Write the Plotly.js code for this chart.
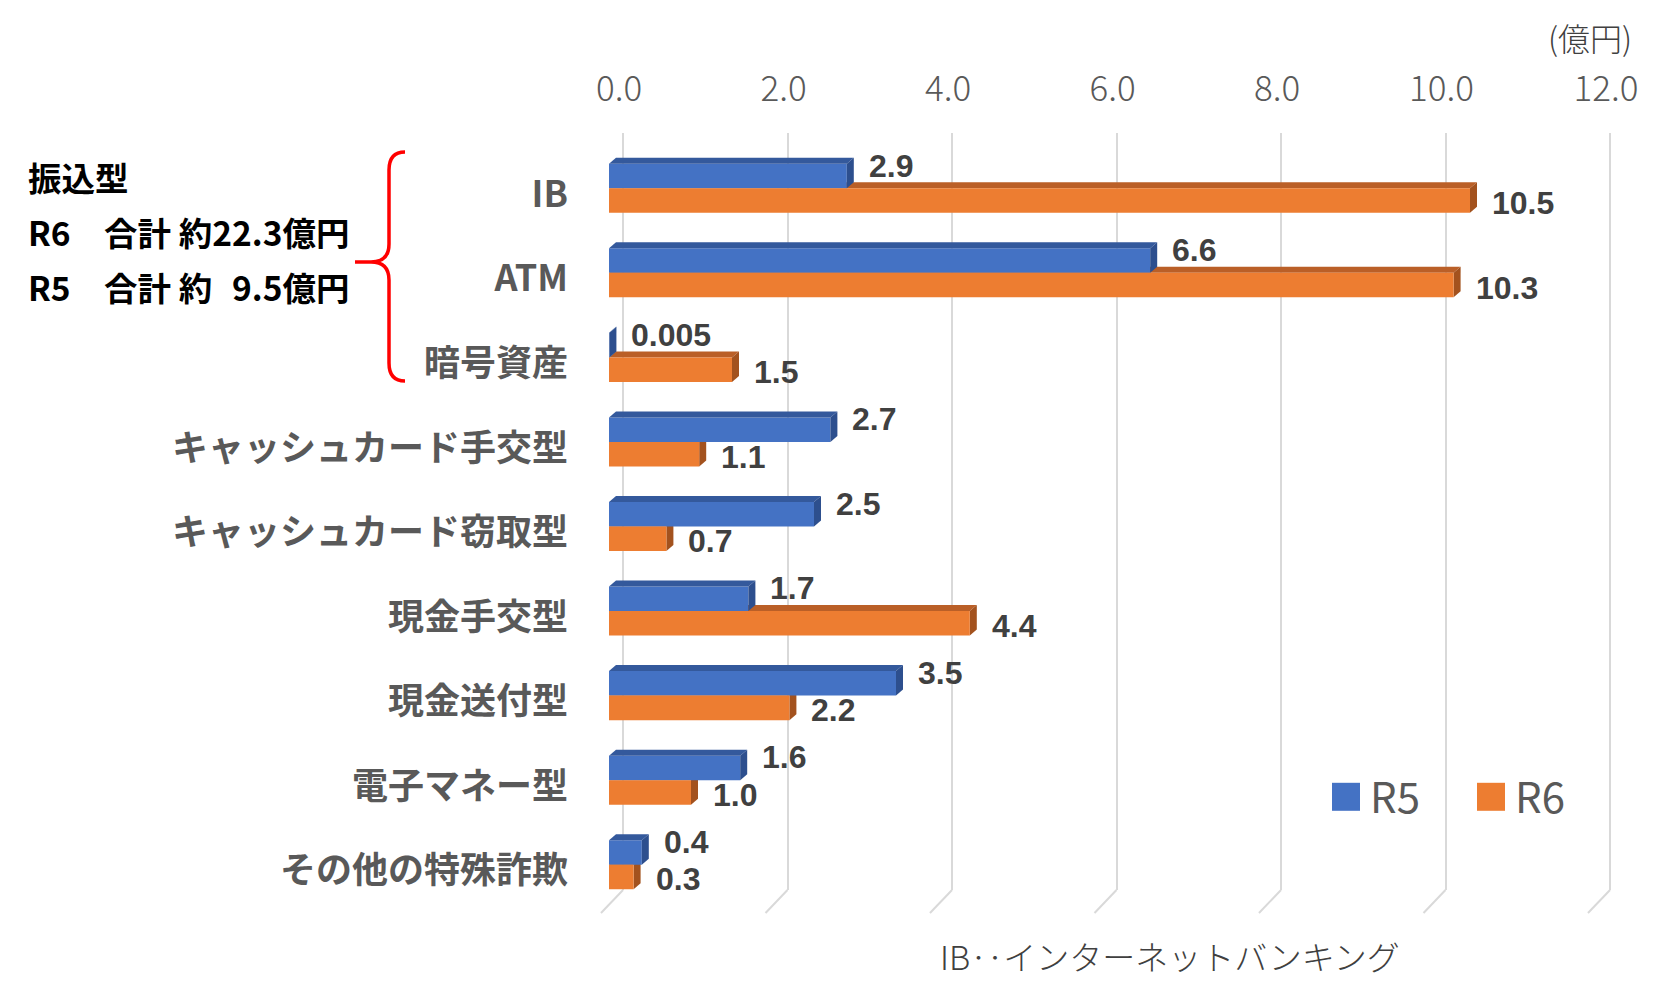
<!DOCTYPE html>
<html>
<head>
<meta charset="utf-8">
<script src="https://cdn.plot.ly/plotly-3.0.1.min.js"></script>
<style>
html,body{margin:0;padding:0;background:#fff;}
#chart{width:1672px;height:994px;}
</style>
</head>
<body>
<div id="chart"></div>
<script>
// ---------------- data ----------------
const categories = ['IB', 'ATM', '暗号資産', 'キャッシュカード手交型', 'キャッシュカード窃取型', '現金手交型', '現金送付型', '電子マネー型', 'その他の特殊詐欺'];
const r5Values = [2.9, 6.6, 0.005, 2.7, 2.5, 1.7, 3.5, 1.6, 0.4];
const r6Values = [10.5, 10.3, 1.5, 1.1, 0.7, 4.4, 2.2, 1.0, 0.3];
const seriesNames = ['R5', 'R6'];
const xTickValues = [0, 2, 4, 6, 8, 10, 12];
const xTickLabels = ['0.0', '2.0', '4.0', '6.0', '8.0', '10.0', '12.0'];
const groupNote = ['振込型', 'R6\u3000合計 約22.3億円', 'R5\u3000合計 約\u20079.5億円'];
const unitLabel = '(億円)';
const footNote = 'IB‥インターネットバンキング';

// ---------------- geometry (pixels) ----------------
const W = 1672, H = 994;
const L = 609, R = 1612, T = 133, B = 907;
const PW = R - L, PH = B - T;
const px2x = p => (p - L) / PW;
const px2y = p => (B - p) / PH;
const frontScale = 82;      // px per unit, bar front faces
const backScale = 82.25;    // px per unit, back wall grid
const backZero = 623;
const barTopPx = 146;
const gridBottomPx = 890;
const floorFrontPx = 913;
const bargap = 0.42;
const half = (1 - bargap) / 2;
const bandPx = (B - barTopPx) / categories.length;
const dX = 7 / frontScale;
const dY = 6 / bandPx;

const FONT = '"Noto Sans CJK JP", "Noto Sans", sans-serif';
const NUMFONT = '"Liberation Sans", Arial, sans-serif';
const colors = {
  r5: '#4472C4', r5Top: '#34599C', r5Side: '#2D4F8E',
  r6: '#ED7D31', r6Top: '#BA5F27', r6Side: '#A3521E'
};

const fmt = v => (v < 0.1 ? v.toFixed(3) : v.toFixed(1));

// ---------------- traces ----------------
const traces = [
  // carrier of the back-wall value axis (draws nothing itself)
  {type: 'scatter', mode: 'none', x: xTickValues, y: xTickValues.map(() => 0.5),
   xaxis: 'x', yaxis: 'y', showlegend: false, hoverinfo: 'skip'},
  {type: 'bar', orientation: 'h', name: seriesNames[0], x: r5Values, y: categories,
   xaxis: 'x2', yaxis: 'y2', marker: {color: colors.r5, line: {width: 0}}, hoverinfo: 'skip'},
  {type: 'bar', orientation: 'h', name: seriesNames[1], x: r6Values, y: categories,
   xaxis: 'x2', yaxis: 'y2', marker: {color: colors.r6, line: {width: 0}}, hoverinfo: 'skip'}
];

// ---------------- 3D faces (computed from the data) ----------------
const shapes = [];
const poly = pts => 'M' + pts.map(p => p[0] + ',' + p[1]).join('L') + 'Z';
categories.forEach((c, i) => {
  const vb = r5Values[i], vo = r6Values[i];
  const bTop = i - half, bBot = i, oTop = i, oBot = i + half;
  shapes.push({type: 'path', xref: 'x2', yref: 'y2', layer: 'below', line: {width: 0}, fillcolor: colors.r6Top,
    path: poly([[0, oTop], [vo, oTop], [vo + dX, oTop - dY], [dX, oTop - dY]])});
  shapes.push({type: 'path', xref: 'x2', yref: 'y2', layer: 'below', line: {width: 0}, fillcolor: colors.r6Side,
    path: poly([[vo, oTop], [vo + dX, oTop - dY], [vo + dX, oBot - dY], [vo, oBot]])});
  shapes.push({type: 'path', xref: 'x2', yref: 'y2', layer: 'above', line: {width: 0}, fillcolor: colors.r5Top,
    path: poly([[0, bTop], [vb, bTop], [vb + dX, bTop - dY], [dX, bTop - dY]])});
  shapes.push({type: 'path', xref: 'x2', yref: 'y2', layer: 'above', line: {width: 0}, fillcolor: colors.r5Side,
    path: poly([[vb, bTop], [vb + dX, bTop - dY], [vb + dX, bBot - dY], [vb, bBot]])});
});
xTickValues.forEach(v => {
  const bx = backZero + v * backScale;
  shapes.push({type: 'line', xref: 'paper', yref: 'paper', layer: 'below',
    x0: px2x(bx), y0: px2y(gridBottomPx), x1: px2x(bx - 22), y1: px2y(floorFrontPx),
    line: {color: '#D9D9D9', width: 2}});
});
const bracePx = [
  ['M', 405, 152], ['Q', 389, 152, 389, 170], ['L', 389, 244], ['Q', 389, 262, 371, 262], ['L', 355, 262],
  ['L', 371, 262], ['Q', 389, 262, 389, 280], ['L', 389, 363], ['Q', 389, 381, 405, 381]
];
const bracePath = bracePx.map(s => {
  const cmd = s[0], nums = s.slice(1), out = [];
  for (let k = 0; k < nums.length; k += 2) out.push(px2x(nums[k]) + ',' + px2y(nums[k + 1]));
  return cmd + out.join(' ');
}).join(' ');
shapes.push({type: 'path', xref: 'paper', yref: 'paper', layer: 'above', path: bracePath,
  line: {color: '#FF0000', width: 3.5}});

// ---------------- annotations ----------------
const annotations = [];
const labelFont = {family: NUMFONT, size: 32, color: '#404040', weight: 700};
categories.forEach((c, i) => {
  annotations.push({xref: 'x2', yref: 'y2', x: r5Values[i], y: i - half / 2, text: fmt(r5Values[i]),
    xanchor: 'left', yanchor: 'middle', xshift: 20, yshift: 10.5, showarrow: false, font: labelFont});
  annotations.push({xref: 'x2', yref: 'y2', x: r6Values[i], y: i + half / 2, text: fmt(r6Values[i]),
    xanchor: 'left', yanchor: 'middle', xshift: 20, yshift: -2.5, showarrow: false, font: labelFont});
});
const noteY = [176, 231.5, 286];
groupNote.forEach((t, k) => {
  annotations.push({xref: 'paper', yref: 'paper', x: px2x(26), y: px2y(noteY[k]), text: t,
    xanchor: 'left', yanchor: 'middle', showarrow: false,
    font: {family: FONT, size: 33.5, color: '#000000', weight: 700}});
});
annotations.push({xref: 'paper', yref: 'paper', x: px2x(1634), y: px2y(37), text: unitLabel,
  xanchor: 'right', yanchor: 'middle', showarrow: false,
  font: {family: FONT, size: 32, color: '#404040', weight: 300}});
annotations.push({xref: 'paper', yref: 'paper', x: px2x(1170), y: px2y(956), text: footNote,
  xanchor: 'center', yanchor: 'middle', showarrow: false,
  font: {family: FONT, size: 33, color: '#404040', weight: 300}});

// ---------------- layout ----------------
const layout = {
  width: W, height: H,
  margin: {l: L, r: W - R, t: T, b: H - B, pad: 0},
  paper_bgcolor: '#ffffff', plot_bgcolor: 'rgba(0,0,0,0)',
  font: {family: FONT, color: '#595959'},
  barmode: 'group', bargap: bargap, bargroupgap: 0,
  showlegend: true,
  legend: {orientation: 'h', x: px2x(1330), y: px2y(797), xanchor: 'left', yanchor: 'middle',
    bgcolor: 'rgba(0,0,0,0)', font: {family: FONT, size: 42, color: '#595959'},
    entrywidth: 100, entrywidthmode: 'pixels', itemclick: false, itemdoubleclick: false},
  xaxis: {domain: [0, 1], range: [(L - backZero) / backScale, (R - backZero) / backScale], anchor: 'y',
    side: 'top', tickmode: 'array', tickvals: xTickValues, ticktext: xTickLabels,
    showgrid: true, gridcolor: '#D9D9D9', gridwidth: 2, zeroline: false, showline: false, ticks: '',
    ticklabelstandoff: 24, ticklabelshift: -4,
    tickfont: {family: FONT, size: 35, color: '#595959', weight: 300}, fixedrange: true},
  yaxis: {domain: [px2y(gridBottomPx), 1], range: [0, 1], anchor: 'x', visible: false, fixedrange: true},
  xaxis2: {domain: [0, 1], range: [0, PW / frontScale], anchor: 'y2', visible: false, fixedrange: true},
  yaxis2: {domain: [0, px2y(barTopPx)], anchor: 'x2', type: 'category',
    categoryorder: 'array', categoryarray: categories,
    range: [categories.length - 0.5, -0.5],
    showgrid: false, zeroline: false, showline: false, ticks: '',
    ticklabelstandoff: 40, ticklabelshift: -6,
    tickfont: {family: FONT, size: 36, color: '#595959', weight: 700}, fixedrange: true},
  shapes: shapes,
  annotations: annotations
};

Plotly.newPlot('chart', traces, layout, {displayModeBar: false, staticPlot: true}).then(gd => {
  document.querySelectorAll('.legend .legendpoints path').forEach(p => {
    p.setAttribute('d', 'M10,14H-18V-14H10Z');
  });
});
</script>
</body>
</html>
